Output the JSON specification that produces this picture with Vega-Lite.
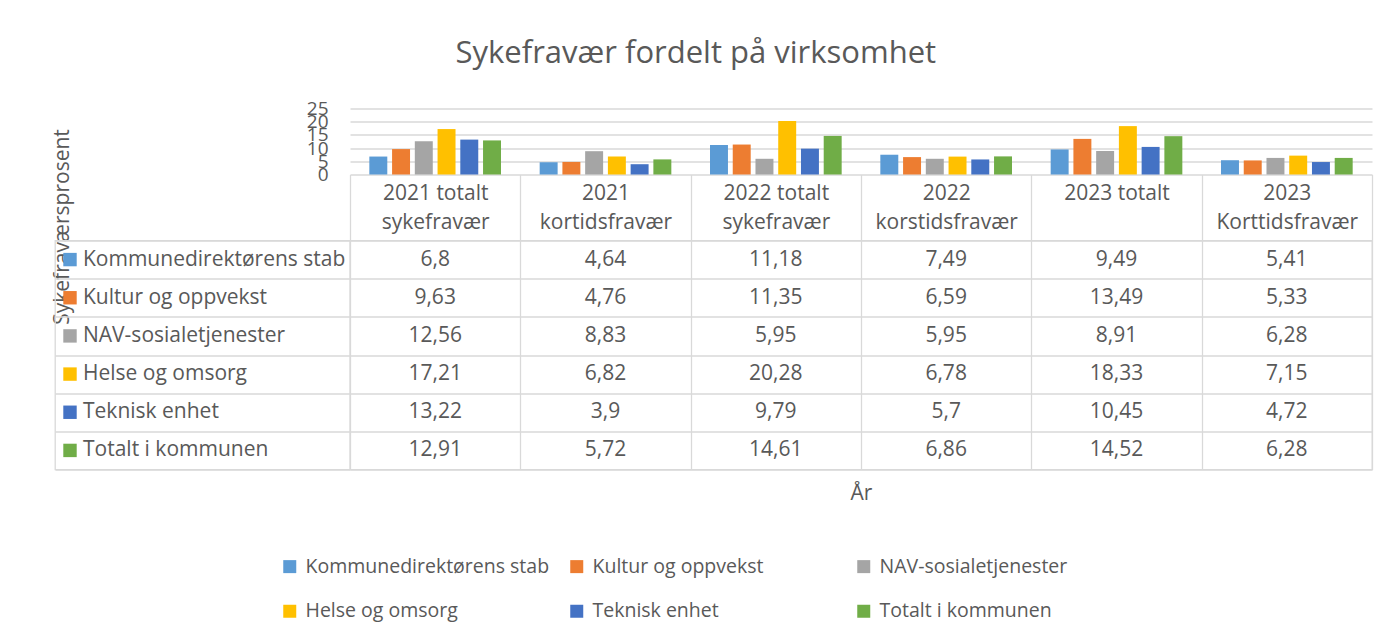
{
  "$schema": "https://vega.github.io/schema/vega-lite/v6.json",
  "padding": {"left": 51, "top": 37.5, "right": 10, "bottom": 10},
  "background": "white",
  "title": {"text": "Sykefravær fordelt på virksomhet", "fontSize": 31, "font": "Open Sans", "fontWeight": "normal", "color": "#595959", "anchor": "middle", "dx": -16, "offset": 30},
  "datasets": {
    "main": [
      {"cat": "2021 totalt\nsykefravær", "series": "Kommunedirektørens stab", "value": 6.8},
      {"cat": "2021 totalt\nsykefravær", "series": "Kultur og oppvekst", "value": 9.63},
      {"cat": "2021 totalt\nsykefravær", "series": "NAV-sosialetjenester", "value": 12.56},
      {"cat": "2021 totalt\nsykefravær", "series": "Helse og omsorg", "value": 17.21},
      {"cat": "2021 totalt\nsykefravær", "series": "Teknisk enhet", "value": 13.22},
      {"cat": "2021 totalt\nsykefravær", "series": "Totalt i kommunen", "value": 12.91},
      {"cat": "2021\nkortidsfravær", "series": "Kommunedirektørens stab", "value": 4.64},
      {"cat": "2021\nkortidsfravær", "series": "Kultur og oppvekst", "value": 4.76},
      {"cat": "2021\nkortidsfravær", "series": "NAV-sosialetjenester", "value": 8.83},
      {"cat": "2021\nkortidsfravær", "series": "Helse og omsorg", "value": 6.82},
      {"cat": "2021\nkortidsfravær", "series": "Teknisk enhet", "value": 3.9},
      {"cat": "2021\nkortidsfravær", "series": "Totalt i kommunen", "value": 5.72},
      {"cat": "2022 totalt\nsykefravær", "series": "Kommunedirektørens stab", "value": 11.18},
      {"cat": "2022 totalt\nsykefravær", "series": "Kultur og oppvekst", "value": 11.35},
      {"cat": "2022 totalt\nsykefravær", "series": "NAV-sosialetjenester", "value": 5.95},
      {"cat": "2022 totalt\nsykefravær", "series": "Helse og omsorg", "value": 20.28},
      {"cat": "2022 totalt\nsykefravær", "series": "Teknisk enhet", "value": 9.79},
      {"cat": "2022 totalt\nsykefravær", "series": "Totalt i kommunen", "value": 14.61},
      {"cat": "2022\nkorstidsfravær", "series": "Kommunedirektørens stab", "value": 7.49},
      {"cat": "2022\nkorstidsfravær", "series": "Kultur og oppvekst", "value": 6.59},
      {"cat": "2022\nkorstidsfravær", "series": "NAV-sosialetjenester", "value": 5.95},
      {"cat": "2022\nkorstidsfravær", "series": "Helse og omsorg", "value": 6.78},
      {"cat": "2022\nkorstidsfravær", "series": "Teknisk enhet", "value": 5.7},
      {"cat": "2022\nkorstidsfravær", "series": "Totalt i kommunen", "value": 6.86},
      {"cat": "2023 totalt", "series": "Kommunedirektørens stab", "value": 9.49},
      {"cat": "2023 totalt", "series": "Kultur og oppvekst", "value": 13.49},
      {"cat": "2023 totalt", "series": "NAV-sosialetjenester", "value": 8.91},
      {"cat": "2023 totalt", "series": "Helse og omsorg", "value": 18.33},
      {"cat": "2023 totalt", "series": "Teknisk enhet", "value": 10.45},
      {"cat": "2023 totalt", "series": "Totalt i kommunen", "value": 14.52},
      {"cat": "2023\nKorttidsfravær", "series": "Kommunedirektørens stab", "value": 5.41},
      {"cat": "2023\nKorttidsfravær", "series": "Kultur og oppvekst", "value": 5.33},
      {"cat": "2023\nKorttidsfravær", "series": "NAV-sosialetjenester", "value": 6.28},
      {"cat": "2023\nKorttidsfravær", "series": "Helse og omsorg", "value": 7.15},
      {"cat": "2023\nKorttidsfravær", "series": "Teknisk enhet", "value": 4.72},
      {"cat": "2023\nKorttidsfravær", "series": "Totalt i kommunen", "value": 6.28}
    ],
    "series": [
      {"series": "Kommunedirektørens stab"},
      {"series": "Kultur og oppvekst"},
      {"series": "NAV-sosialetjenester"},
      {"series": "Helse og omsorg"},
      {"series": "Teknisk enhet"},
      {"series": "Totalt i kommunen"}
    ]
  },
  "columns": 2,
  "spacing": {"row": 66, "column": 0},
  "bounds": "flush",
  "resolve": {"scale": {"color": "shared"}, "legend": {"color": "shared"}},
  "concat": [
    {
      "width": 295, "height": 66,
      "data": {"values": [{"a": 1}]},
      "mark": {"type": "text"},
      "encoding": {"text": {"value": ""}}
    },
    {
      "width": 1022, "height": 66,
      "data": {"name": "main"},
      "mark": {"type": "bar"},
      "encoding": {
        "x": {
          "field": "cat", "type": "nominal",
          "sort": ["2021 totalt\nsykefravær", "2021\nkortidsfravær", "2022 totalt\nsykefravær", "2022\nkorstidsfravær", "2023 totalt", "2023\nKorttidsfravær"],
          "scale": {"paddingInner": 0, "paddingOuter": 0},
          "axis": {
            "title": null, "domain": false, "ticks": true, "tickBand": "extent", "tickSize": 66,
            "tickColor": "#d9d9d9", "tickWidth": 1.3, "grid": false,
            "labelExpr": "split(datum.label, '\\n')",
            "labelFontSize": 21, "labelColor": "#595959",
            "labelBaseline": "middle",
            "labelPadding": -47.5,
            "labelLineHeight": 29, "labelAngle": 0,
            "labelLimit": 400, "labelOverlap": false
          }
        },
        "xOffset": {
          "field": "series", "type": "nominal",
          "sort": ["Kommunedirektørens stab", "Kultur og oppvekst", "NAV-sosialetjenester", "Helse og omsorg", "Teknisk enhet", "Totalt i kommunen"],
          "scale": {"paddingInner": 0.21, "paddingOuter": 0.85}
        },
        "y": {
          "field": "value", "type": "quantitative",
          "scale": {"domain": [0, 25], "nice": false},
          "axis": {
            "title": "Sykefraværsprosent", "titleX": -288, "titleY": 118, "titleAngle": 270,
            "titleBaseline": "middle", "titleAlign": "center", "titleFontSize": 21,
            "titleFontWeight": "normal", "titleColor": "#595959",
            "values": [0, 5, 10, 15, 20, 25], "grid": true, "gridColor": "#d9d9d9", "gridWidth": 1.3,
            "domain": false, "ticks": false, "labelFontSize": 19, "labelColor": "#595959",
            "labelPadding": 22, "labelOverlap": false, "labelFlush": false
          }
        },
        "color": {
          "field": "series", "type": "nominal",
          "sort": ["Kommunedirektørens stab", "Kultur og oppvekst", "NAV-sosialetjenester", "Helse og omsorg", "Teknisk enhet", "Totalt i kommunen"],
          "scale": {
            "domain": ["Kommunedirektørens stab", "Kultur og oppvekst", "NAV-sosialetjenester", "Helse og omsorg", "Teknisk enhet", "Totalt i kommunen"],
            "range": ["#5B9BD5", "#ED7D31", "#A5A5A5", "#FFC000", "#4472C4", "#70AD47"]
          },
          "legend": {
            "title": " ", "titleOrient": "left", "titleFontSize": 1, "titlePadding": 225,
            "orient": "bottom", "offset": 51.5,
            "direction": "horizontal", "columns": 3,
            "gridAlign": "all", "columnPadding": 17, "rowPadding": 24, "symbolType": "square",
            "symbolSize": 169, "symbolStrokeWidth": 0, "labelFontSize": 19.5, "labelColor": "#595959",
            "labelLimit": 400, "labelOffset": 6
          }
        }
      }
    },
    {
      "width": 295, "height": 229,
      "data": {"name": "series"},
      "view": {"stroke": "#d9d9d9", "strokeWidth": 1.3},
      "encoding": {
        "y": {
          "field": "series", "type": "nominal",
          "sort": ["Kommunedirektørens stab", "Kultur og oppvekst", "NAV-sosialetjenester", "Helse og omsorg", "Teknisk enhet", "Totalt i kommunen"],
          "scale": {"paddingInner": 0, "paddingOuter": 0},
          "axis": {"grid": true, "tickBand": "extent", "gridColor": "#d9d9d9", "gridWidth": 1.3, "labels": false, "ticks": false, "domain": false, "title": null}
        },
        "x": {"datum": 0, "type": "quantitative", "scale": {"domain": [0, 1]}, "axis": null}
      },
      "layer": [
        {
          "mark": {"type": "point", "shape": "square", "filled": true, "size": 180, "xOffset": 15, "opacity": 1},
          "encoding": {"color": {"field": "series", "type": "nominal"}}
        },
        {
          "mark": {"type": "text", "align": "left", "dx": 28, "fontSize": 21, "color": "#595959"},
          "encoding": {"text": {"field": "series", "type": "nominal"}}
        }
      ]
    },
    {
      "width": 1022, "height": 229,
      "data": {"name": "main"},
      "view": {"stroke": "#d9d9d9", "strokeWidth": 1.3},
      "mark": {"type": "text", "fontSize": 21, "color": "#595959"},
      "encoding": {
        "x": {
          "field": "cat", "type": "nominal",
          "sort": ["2021 totalt\nsykefravær", "2021\nkortidsfravær", "2022 totalt\nsykefravær", "2022\nkorstidsfravær", "2023 totalt", "2023\nKorttidsfravær"],
          "scale": {"paddingInner": 0, "paddingOuter": 0},
          "axis": {"grid": true, "tickBand": "extent", "gridColor": "#d9d9d9", "gridWidth": 1.3, "labels": false, "ticks": false, "domain": false, "title": "År", "titleFontSize": 21, "titleFontWeight": "normal", "titleColor": "#595959", "titlePadding": 13}
        },
        "y": {
          "field": "series", "type": "nominal",
          "sort": ["Kommunedirektørens stab", "Kultur og oppvekst", "NAV-sosialetjenester", "Helse og omsorg", "Teknisk enhet", "Totalt i kommunen"],
          "scale": {"paddingInner": 0, "paddingOuter": 0},
          "axis": {"grid": true, "tickBand": "extent", "gridColor": "#d9d9d9", "gridWidth": 1.3, "labels": false, "ticks": false, "domain": false, "title": null}
        },
        "text": {"field": "value", "type": "quantitative", "format": "~g"}
      }
    }
  ],
  "config": {
    "font": "Open Sans",
    "view": {"stroke": null},
    "locale": {"number": {"decimal": ",", "thousands": " ", "grouping": [3], "currency": ["", " kr"]}}
  }
}
